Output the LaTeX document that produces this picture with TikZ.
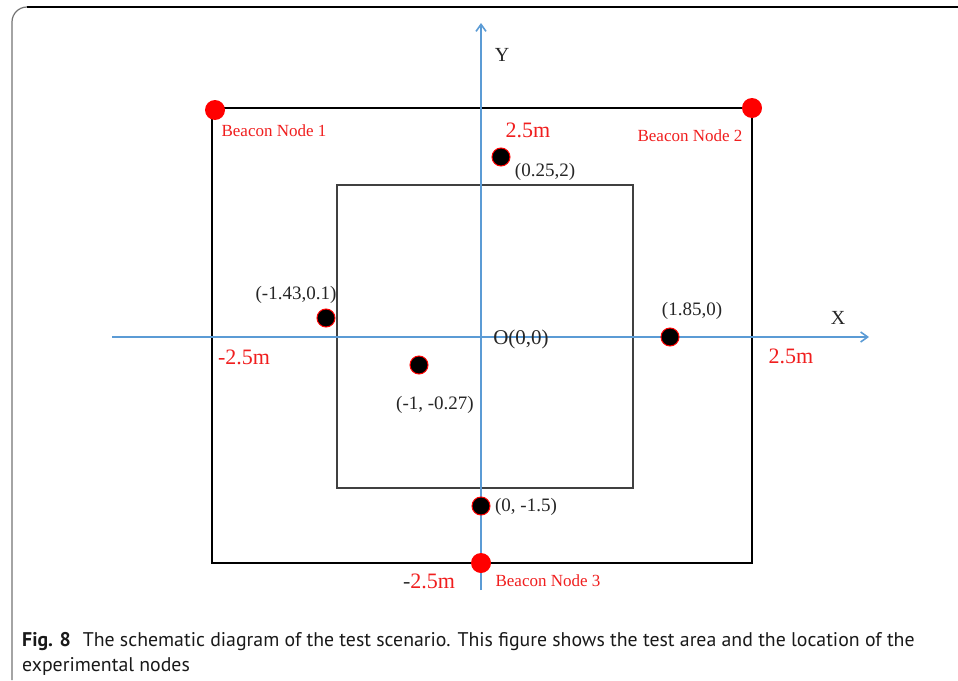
\documentclass[tikz,border=0pt]{standalone}
\usepackage{fontspec}
\setmainfont{Liberation Serif}
\newfontfamily\capfont{PT Sans}
\usetikzlibrary{arrows.meta}
\definecolor{axisblue}{RGB}{91,155,213}
\definecolor{beaconred}{RGB}{255,0,0}
\definecolor{labred}{RGB}{240,30,30}
\tikzset{
  axisline/.style={draw=axisblue, line width=1.6pt, -{Straight Barb[length=7pt,width=10pt]}},
  beacon/.style={circle, fill=beaconred, inner sep=0pt, minimum size=20pt},
  expnode/.style={circle, fill=black, draw=beaconred, line width=1pt, inner sep=0pt, minimum size=18pt},
  coordlab/.style={font=\fontsize{19}{22}\selectfont, text=black!85, inner sep=0pt},
  beaconlab/.style={font=\fontsize{17}{20}\selectfont, text=labred, inner sep=0pt},
  redlab/.style={font=\fontsize{22}{26}\selectfont, text=labred, inner sep=0pt},
  axislab/.style={font=\fontsize{20}{24}\selectfont, text=black!85, inner sep=0pt},
  caplab/.style={anchor=base west, inner sep=0pt, font=\capfont\fontsize{19.8}{25}\selectfont, text=black!90},
}
\begin{document}
\begin{tikzpicture}[x=1pt,y=-1pt]
\useasboundingbox (0,0) rectangle (958,680);
% frame
\draw[black!55, line width=1.2pt] (12,680) -- (12,22) arc[start angle=180, end angle=270, radius=15];
\draw[black, line width=1.4pt] (27,7) -- (958,7);
% squares
\draw[black, line width=2.6pt] (212,108) rectangle (752,563);
\draw[black!75, line width=1.1pt] (337,185) rectangle (633,488);
% axes
\coordinate (xs) at (112,337);
\coordinate (xe) at (869,337);
\coordinate (ys) at (481,590);
\coordinate (ye) at (481,23);
\draw[axisline] (xs) -- (xe);
\draw[axisline] (ys) -- (ye);
% axis labels
\node[axislab] (ylab) at (502,55) {Y};
\node[axislab] (xlab) at (838,318) {X};
\node[coordlab, font=\fontsize{21}{24}\selectfont] (olab) at (521,339) {O(0,0)};
% beacons
\node[beacon] (b1) at (215,110) {};
\node[beacon] (b2) at (752,108) {};
\node[beacon] (b3) at (481,563) {};
\node[beaconlab] (b1l) at (274,131) {Beacon Node 1};
\node[beaconlab] (b2l) at (690,136) {Beacon Node 2};
\node[beaconlab] (b3l) at (548,581) {Beacon Node 3};
% distance labels
\node[redlab] (top) at (528,130) {2.5m};
\node[redlab] (right) at (791,356) {2.5m};
\node[redlab] (left) at (244,357) {-2.5m};
\node[redlab] (bottom) at (429,581) {\textcolor{black!80}{-}2.5m};
% experimental nodes
\node[expnode] (n1) at (501,157) {};
\node[expnode] (n2) at (326,318) {};
\node[expnode] (n3) at (670,337) {};
\node[expnode] (n4) at (419,365) {};
\node[expnode] (n5) at (481,506) {};
\node[coordlab] (n1l) at (545,172) {(0.25,2)};
\node[coordlab] (n2l) at (296,295) {(-1.43,0.1)};
\node[coordlab] (n3l) at (692,311) {(1.85,0)};
\node[coordlab] (n4l) at (435,405) {(-1, -0.27)};
\node[coordlab] (n5l) at (526,507) {(0, -1.5)};
% caption
\node[caplab] (cap1) at (22,646)
  {\textbf{Fig. 8}\hspace{0.6em}The schematic diagram of the test scenario. This figure shows the test area and the location of the};
\node[caplab] (cap2) at (22,671) {experimental nodes};
\end{tikzpicture}
\end{document}
